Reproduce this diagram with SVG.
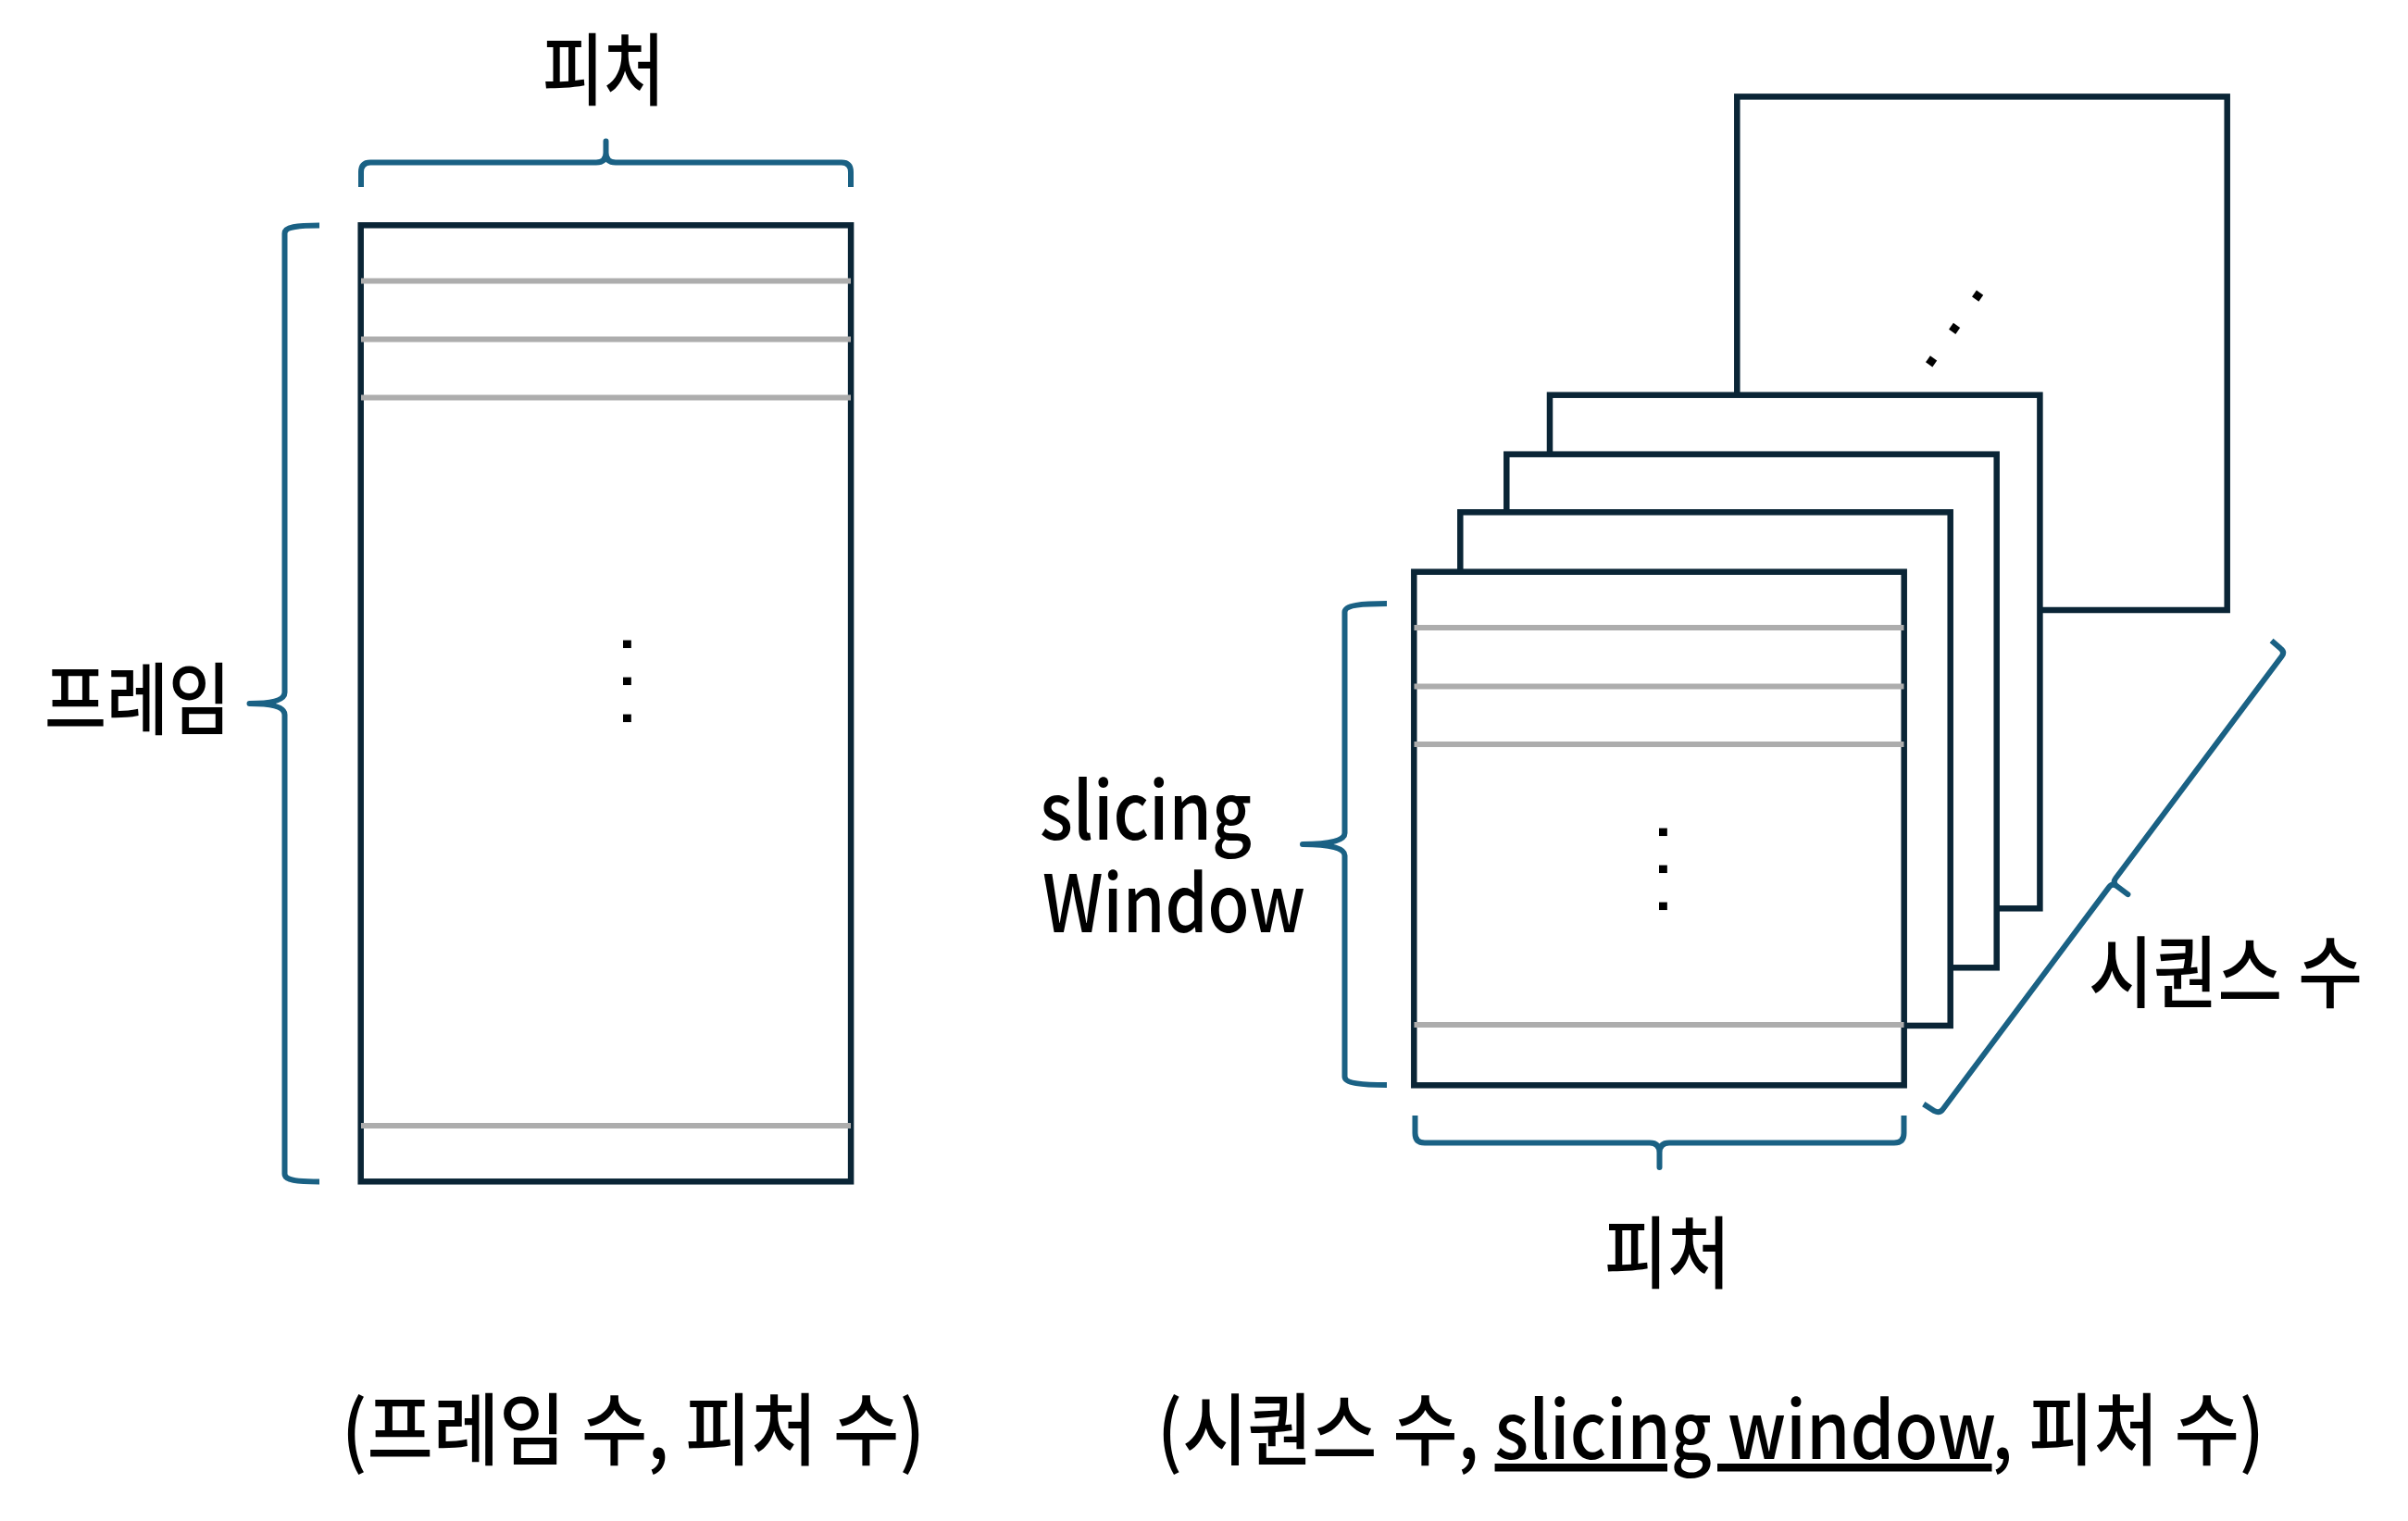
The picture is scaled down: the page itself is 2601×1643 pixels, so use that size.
<svg xmlns="http://www.w3.org/2000/svg" width="2601" height="1643" viewBox="0 0 2601 1643">
<style>
.frame{fill:#ffffff;stroke:#0a2536;stroke-width:6.5}
.grid{stroke:#adadad;stroke-width:6;fill:none}
.brace{fill:none;stroke:#1a6184;stroke-width:6;stroke-linecap:butt;stroke-linejoin:round}
.ko{font-family:"Noto Sans CJK KR","Noto Sans",sans-serif;font-size:85px;font-weight:500;fill:#000000}
.dots{font-family:"Liberation Sans",sans-serif;font-size:60px;font-weight:bold;fill:#000000;letter-spacing:23.3px}
.dots-diag{letter-spacing:26.7px}
</style>
<rect x="0" y="0" width="2601" height="1643" fill="#ffffff"/>

<g id="frame-matrix">
<rect class="frame" x="389.7" y="243.3" width="529.4" height="1033"/>
<line class="grid" x1="390" y1="303.5" x2="919" y2="303.5"/>
<line class="grid" x1="390" y1="366.5" x2="919" y2="366.5"/>
<line class="grid" x1="390" y1="429.5" x2="919" y2="429.5"/>
<line class="grid" x1="390" y1="1216" x2="919" y2="1216"/>
<text class="dots" transform="translate(672.7,687.6) rotate(90)">...</text>
</g>

<g id="sequence-stack">
<g id="seq-back">
<rect class="frame" x="1876.3" y="104.4" width="529.4" height="554.6"/>
<text class="dots dots-diag" transform="translate(2084.9,399.8) rotate(-54.8)">...</text>
</g>
<rect id="seq-3" class="frame" x="1674" y="426.7" width="529.4" height="554.6"/>
<rect id="seq-2" class="frame" x="1627.3" y="490.7" width="529.4" height="554.6"/>
<rect id="seq-1" class="frame" x="1577.3" y="553.3" width="529.4" height="554.6"/>
<g id="seq-front">
<rect class="frame" x="1527.3" y="617.7" width="529.4" height="554.6"/>
<line class="grid" x1="1527.5" y1="678" x2="2056.5" y2="678"/>
<line class="grid" x1="1527.5" y1="741.5" x2="2056.5" y2="741.5"/>
<line class="grid" x1="1527.5" y1="804" x2="2056.5" y2="804"/>
<line class="grid" x1="1527.5" y1="1107" x2="2056.5" y2="1107"/>
<text class="dots" transform="translate(1791.7,890.6) rotate(90)">...</text>
</g>
</g>

<g id="connectors">
<path class="brace" d="M390,202 V186 Q390,175.5 400,175.5 H644 Q654.5,175.5 654.5,165 V152.5 V165 Q654.5,175.5 665,175.5 H909 Q919,175.5 919,186 V202"/>
<path class="brace" d="M345,243.5 C320,243.5 307.5,245 307.5,252 V748 Q307.5,760 269.5,760 Q307.5,760 307.5,772 V1268 C307.5,1275 320,1276.5 345,1276.5"/>
<path class="brace" d="M1498,652 C1470,652 1452.5,654 1452.5,661 V900 Q1452.5,912 1407,912 Q1452.5,912 1452.5,924 V1163 C1452.5,1170 1470,1172 1498,1172"/>
<path class="brace" d="M1528.5,1205 V1224 Q1528.5,1234.5 1539,1234.5 H1782 Q1792.5,1234.5 1792.5,1245 V1261 V1245 Q1792.5,1234.5 1803,1234.5 H2046 Q2056.5,1234.5 2056.5,1224 V1205"/>
<path class="brace" transform="translate(2095,1203) rotate(-53.2)" d="M-2,-20 L-1,-6 Q0,0 6,0 H305.5 Q311.5,0 311.5,6 V21 V6 Q311.5,0 317.5,0 H617 Q623,0 623,-6 L624,-19"/>
</g>

<g id="label-feature-top"><text class="ko" x="652" y="106.5" text-anchor="middle" textLength="132" lengthAdjust="spacingAndGlyphs">피처</text></g>
<g id="label-frame"><text class="ko" x="148.5" y="786.5" text-anchor="middle" textLength="201" lengthAdjust="spacingAndGlyphs">프레임</text></g>
<g id="label-slicing">
<text class="ko" x="1123" y="907" textLength="229" lengthAdjust="spacingAndGlyphs">slicing</text>
<text class="ko" x="1126" y="1007" textLength="284" lengthAdjust="spacingAndGlyphs">Window</text>
</g>
<g id="label-feature-bottom"><text class="ko" x="1801" y="1384.5" text-anchor="middle" textLength="136" lengthAdjust="spacingAndGlyphs">피처</text></g>
<g id="label-sequence"><text class="ko" x="2404" y="1081.5" text-anchor="middle" textLength="296" lengthAdjust="spacingAndGlyphs">시퀀스 수</text></g>
<g id="caption-left"><text class="ko" x="684" y="1576" text-anchor="middle" textLength="630" lengthAdjust="spacingAndGlyphs">(프레임 수, 피처 수)</text></g>
<g id="caption-right"><text class="ko" x="1848" y="1576" text-anchor="middle" textLength="1196" lengthAdjust="spacingAndGlyphs">(시퀀스 수, <tspan text-decoration="underline">slicing window</tspan>, 피처 수)</text></g>
</svg>
